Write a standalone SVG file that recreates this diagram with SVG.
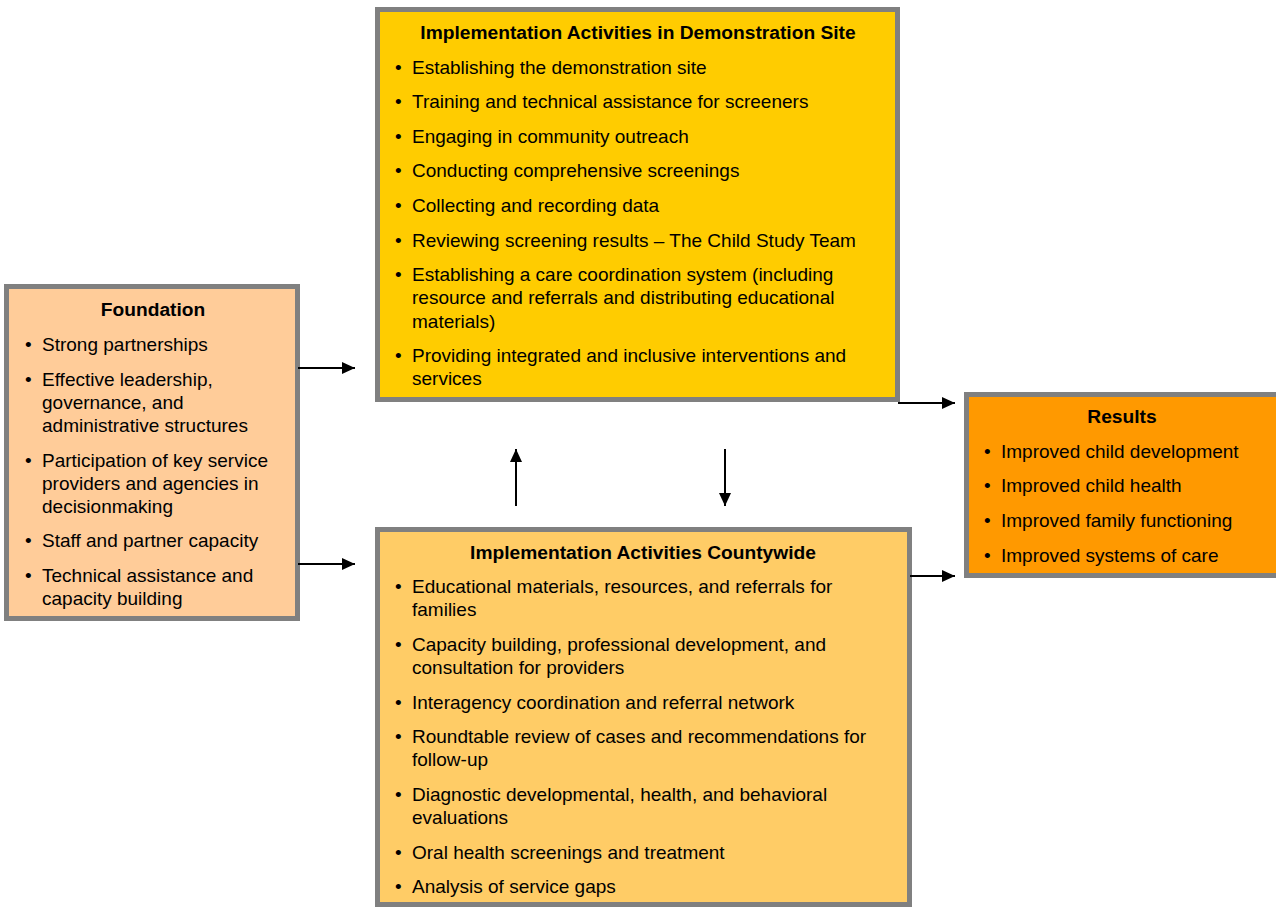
<svg xmlns="http://www.w3.org/2000/svg" width="1276" height="907" viewBox="0 0 1276 907">
<style>
.box{stroke:#808080;stroke-width:5}
.t{font-family:"Liberation Sans",Arial,sans-serif;font-size:19px;fill:#000}
.h{font-family:"Liberation Sans",Arial,sans-serif;font-size:19.2px;font-weight:bold;fill:#000;text-anchor:middle}
.c{stroke:#000;stroke-width:2;fill:none;marker-end:url(#ah)}
</style>
<defs>
<marker id="ah" markerUnits="userSpaceOnUse" markerWidth="14" markerHeight="13" refX="13" refY="6" orient="auto">
<path d="M0,0 L13,6 L0,12 z" fill="#000"/>
</marker>
</defs>
<rect width="1276" height="907" fill="#fff"/>
<g id="foundation">
<rect class="box" x="6.5" y="286.5" width="291" height="332" fill="#FFCC99"/>
<g transform="translate(0,1)">
<text class="h" x="153" y="315">Foundation</text>
<text class="t" x="25" y="350">•</text><text class="t" x="42" y="350">Strong partnerships</text>
<text class="t" x="25" y="385">•</text><text class="t" x="42" y="385">Effective leadership,</text>
<text class="t" x="42" y="408">governance, and</text>
<text class="t" x="42" y="431">administrative structures</text>
<text class="t" x="25" y="466">•</text><text class="t" x="42" y="466">Participation of key service</text>
<text class="t" x="42" y="489">providers and agencies in</text>
<text class="t" x="42" y="512">decisionmaking</text>
<text class="t" x="25" y="546">•</text><text class="t" x="42" y="546">Staff and partner capacity</text>
<text class="t" x="25" y="581">•</text><text class="t" x="42" y="581">Technical assistance and</text>
<text class="t" x="42" y="604">capacity building</text>
</g>
</g>
<g id="demo">
<rect class="box" x="377.5" y="9.5" width="520" height="390" fill="#FFCC00"/>
<g transform="translate(0,1)">
<text class="h" x="638" y="38">Implementation Activities in Demonstration Site</text>
<text class="t" x="395" y="73">•</text><text class="t" x="412" y="73">Establishing the demonstration site</text>
<text class="t" x="395" y="107">•</text><text class="t" x="412" y="107">Training and technical assistance for screeners</text>
<text class="t" x="395" y="142">•</text><text class="t" x="412" y="142">Engaging in community outreach</text>
<text class="t" x="395" y="176">•</text><text class="t" x="412" y="176">Conducting comprehensive screenings</text>
<text class="t" x="395" y="211">•</text><text class="t" x="412" y="211">Collecting and recording data</text>
<text class="t" x="395" y="246">•</text><text class="t" x="412" y="246">Reviewing screening results – The Child Study Team</text>
<text class="t" x="395" y="280">•</text><text class="t" x="412" y="280">Establishing a care coordination system (including</text>
<text class="t" x="412" y="303">resource and referrals and distributing educational</text>
<text class="t" x="412" y="327">materials)</text>
<text class="t" x="395" y="361">•</text><text class="t" x="412" y="361">Providing integrated and inclusive interventions and</text>
<text class="t" x="412" y="384">services</text>
</g>
</g>
<g id="countywide">
<rect class="box" x="377.5" y="529.5" width="532" height="375" fill="#FFCC66"/>
<g transform="translate(0,1)">
<text class="h" x="643" y="558">Implementation Activities Countywide</text>
<text class="t" x="395" y="592">•</text><text class="t" x="412" y="592">Educational materials, resources, and referrals for</text>
<text class="t" x="412" y="615">families</text>
<text class="t" x="395" y="650">•</text><text class="t" x="412" y="650">Capacity building, professional development, and</text>
<text class="t" x="412" y="673">consultation for providers</text>
<text class="t" x="395" y="708">•</text><text class="t" x="412" y="708">Interagency coordination and referral network</text>
<text class="t" x="395" y="742">•</text><text class="t" x="412" y="742">Roundtable review of cases and recommendations for</text>
<text class="t" x="412" y="765">follow-up</text>
<text class="t" x="395" y="800">•</text><text class="t" x="412" y="800">Diagnostic developmental, health, and behavioral</text>
<text class="t" x="412" y="823">evaluations</text>
<text class="t" x="395" y="858">•</text><text class="t" x="412" y="858">Oral health screenings and treatment</text>
<text class="t" x="395" y="892">•</text><text class="t" x="412" y="892">Analysis of service gaps</text>
</g>
</g>
<g id="results">
<rect class="box" x="966.5" y="394.5" width="320" height="181" fill="#FF9900"/>
<g transform="translate(0,1)">
<text class="h" x="1122" y="422">Results</text>
<text class="t" x="984" y="457">•</text><text class="t" x="1001" y="457">Improved child development</text>
<text class="t" x="984" y="491">•</text><text class="t" x="1001" y="491">Improved child health</text>
<text class="t" x="984" y="526">•</text><text class="t" x="1001" y="526">Improved family functioning</text>
<text class="t" x="984" y="561">•</text><text class="t" x="1001" y="561">Improved systems of care</text>
</g>
</g>
<g id="connectors">
<line class="c" x1="298" y1="368" x2="355" y2="368"/>
<line class="c" x1="298" y1="564" x2="355" y2="564"/>
<line class="c" x1="516" y1="506" x2="516" y2="449"/>
<line class="c" x1="725" y1="449" x2="725" y2="506"/>
<line class="c" x1="898" y1="403" x2="955" y2="403"/>
<line class="c" x1="910" y1="576" x2="955" y2="576"/>
</g>
</svg>
